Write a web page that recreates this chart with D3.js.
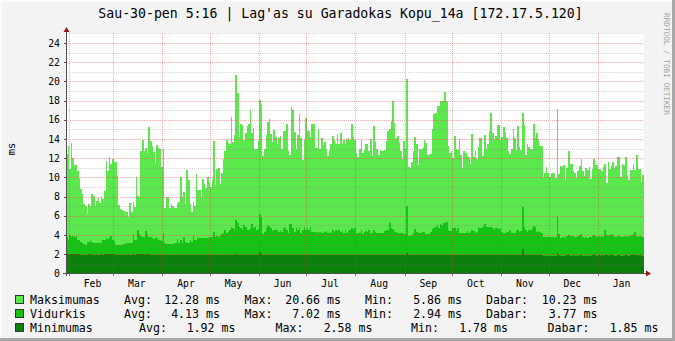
<!DOCTYPE html>
<html>
<head>
<meta charset="utf-8">
<script src="https://cdn.jsdelivr.net/npm/d3@7"></script>
<style>
  html, body { margin: 0; padding: 0; background: #f3f3f3; }
  svg { display: block; }
  text { font-family: "DejaVu Sans Mono", monospace; fill: #000; }
</style>
</head>
<body>
<svg id="chart" width="675" height="341"></svg>
<script>
// Daily round-trip times (ms), one value per day, starting 30 Jan.
const maxValues = [
  12.4, 13.3, 10.9, 13.6, 12.0, 11.25, 11.25, 10.7, 9.9, 8.8, 8.3, 7.2, 7.0, 6.15, 7.2, 7.0, 8.3, 8.05, 7.0, 7.5,
  8.0, 7.3, 8.0, 7.75, 8.6, 11.7, 10.7, 12.1, 11.4, 11.9, 11.6, 11.6, 10.1, 7.1, 6.7, 6.6, 6.5, 6.4, 6.4, 5.86,
  7.3, 6.4, 7.4, 6.9, 10.0, 8.05, 8.0, 12.7, 13.9, 12.7, 13.1, 12.5, 15.2, 13.8, 13.3, 12.6, 11.5, 13.4, 13.1, 12.95,
  11.1, 12.9, 6.85, 8.0, 7.9, 6.8, 7.2, 7.05, 6.8, 6.8, 7.2, 7.4, 10.0, 7.9, 8.5, 7.2, 10.8, 9.7, 7.2, 6.4,
  7.4, 7.0, 10.35, 8.7, 8.7, 8.0, 9.8, 9.3, 8.85, 10.0, 9.55, 9.0, 9.7, 13.8, 9.2, 10.9, 11.0, 9.3, 10.4, 11.9,
  12.7, 13.9, 13.6, 13.5, 16.25, 13.7, 14.4, 20.66, 18.8, 14.2, 15.6, 15.45, 13.9, 14.65, 15.3, 15.6, 17.0, 14.6, 15.1, 12.9,
  12.9, 13.8, 18.05, 17.5, 12.2, 13.0, 14.4, 15.8, 16.05, 14.5, 13.7, 14.9, 14.2, 13.5, 14.05, 14.3, 13.0, 14.85, 14.85, 15.6,
  12.7, 12.3, 17.3, 17.0, 14.75, 13.0, 14.4, 16.6, 14.1, 11.8, 13.9, 16.15, 14.85, 14.85, 14.2, 15.6, 15.6, 13.1, 13.1, 15.0,
  13.0, 14.05, 13.4, 13.7, 12.9, 12.2, 12.85, 13.5, 14.3, 13.9, 13.5, 14.5, 13.5, 14.6, 13.5, 13.9, 13.5, 13.95, 14.05, 13.9,
  15.55, 14.2, 13.9, 12.5, 12.15, 13.0, 13.9, 12.5, 12.8, 13.5, 13.45, 12.7, 14.0, 12.2, 15.35, 13.7, 13.0, 12.3, 12.8, 12.7,
  12.7, 12.8, 13.8, 14.85, 15.0, 15.9, 17.95, 15.7, 14.05, 14.3, 13.6, 12.7, 11.9, 13.8, 12.9, 20.25, 11.05, 10.95, 11.6, 12.7,
  14.2, 13.45, 11.3, 13.0, 12.8, 13.1, 13.9, 13.6, 12.3, 12.4, 12.4, 15.05, 16.6, 16.7, 17.4, 17.4, 17.9, 17.95, 17.95, 18.9,
  18.0, 13.25, 12.5, 12.7, 12.0, 14.3, 12.9, 12.85, 13.95, 12.3, 11.0, 12.75, 12.5, 12.25, 12.15, 11.4, 14.5, 12.15, 12.75, 11.9,
  13.2, 14.1, 14.05, 12.2, 14.4, 13.0, 13.45, 14.8, 16.65, 14.65, 14.0, 14.3, 15.5, 15.5, 13.9, 14.2, 15.2, 14.75, 14.05, 12.7,
  12.4, 13.0, 15.0, 14.05, 12.85, 15.35, 13.2, 12.85, 16.65, 15.45, 12.3, 13.5, 13.2, 13.0, 13.0, 15.55, 14.05, 14.65, 14.0, 13.25,
  13.25, 10.05, 10.5, 11.1, 10.4, 10.05, 10.5, 10.4, 10.4, 9.9, 17.1, 10.35, 11.2, 11.05, 11.25, 9.7, 10.95, 12.75, 11.4, 11.4,
  10.65, 10.4, 9.9, 10.65, 11.2, 11.9, 10.65, 10.15, 11.0, 10.75, 11.05, 9.8, 10.85, 11.9, 11.3, 11.3, 10.85, 10.85, 10.65, 11.05,
  11.4, 9.45, 11.55, 10.85, 11.2, 11.55, 10.95, 11.2, 12.1, 12.1, 10.0, 11.4, 11.3, 12.1, 10.25, 9.7, 10.75, 10.75, 11.4, 10.75,
  12.3, 10.85, 10.85, 9.55, 10.23
];
const avgValues = [
  3.82, 3.47, 3.99, 3.82, 3.92, 3.82, 3.99, 3.47, 3.47, 3.30, 3.13, 3.06, 2.95, 3.30, 3.30, 3.47, 3.30, 3.13, 3.13, 3.19,
  3.30, 3.13, 3.19, 3.47, 3.47, 3.65, 3.58, 3.65, 3.89, 3.47, 3.37, 2.95, 2.95, 2.94, 2.95, 2.95, 3.06, 3.06, 3.19, 3.13,
  3.19, 3.19, 3.99, 3.47, 3.47, 4.51, 4.10, 3.89, 3.82, 3.82, 4.38, 4.06, 3.82, 3.82, 3.65, 3.58, 3.65, 3.65, 3.47, 3.47,
  3.40, 4.17, 3.19, 3.06, 3.06, 3.06, 3.02, 3.06, 3.13, 3.19, 3.54, 3.13, 3.47, 3.19, 3.82, 3.30, 3.13, 3.13, 3.47, 3.30,
  3.89, 3.47, 3.47, 3.65, 3.65, 3.65, 3.72, 3.72, 3.65, 3.72, 3.82, 3.82, 3.82, 4.27, 3.82, 3.89, 3.82, 3.99, 4.10, 4.24,
  4.51, 4.24, 4.34, 4.51, 4.86, 4.69, 4.51, 5.56, 5.21, 4.86, 4.69, 4.51, 5.03, 4.86, 4.51, 4.51, 4.69, 5.14, 4.69, 4.86,
  4.51, 4.60, 6.18, 5.90, 4.10, 4.34, 4.69, 4.93, 4.93, 4.69, 4.44, 4.51, 4.51, 4.51, 4.34, 4.51, 4.34, 4.69, 4.86, 4.51,
  4.17, 5.14, 5.14, 4.69, 4.34, 4.69, 4.51, 4.69, 4.17, 4.51, 4.86, 4.51, 4.69, 4.51, 4.79, 4.34, 4.34, 4.24, 4.34, 4.24,
  4.34, 4.24, 4.17, 4.34, 4.44, 4.17, 4.34, 4.24, 4.51, 4.34, 4.51, 4.44, 4.51, 4.34, 4.44, 4.24, 4.51, 4.17, 4.44, 4.51,
  4.69, 4.51, 4.69, 4.10, 4.24, 4.17, 4.51, 4.10, 4.34, 4.44, 4.34, 4.51, 4.24, 4.17, 4.51, 4.34, 4.17, 4.17, 4.17, 4.17,
  4.24, 4.44, 4.51, 4.51, 5.21, 4.69, 4.58, 4.44, 4.34, 4.17, 4.17, 4.17, 4.17, 4.10, 4.10, 7.02, 3.92, 3.92, 3.99, 4.17,
  4.58, 4.34, 4.17, 4.24, 4.24, 4.34, 4.34, 4.10, 4.10, 4.10, 4.34, 4.58, 4.69, 4.86, 5.03, 4.69, 5.14, 5.03, 5.21, 5.28,
  5.38, 4.51, 4.41, 4.44, 4.69, 4.69, 4.44, 4.69, 4.24, 4.17, 4.17, 4.17, 4.24, 4.44, 4.24, 4.34, 4.51, 4.44, 4.17, 4.34,
  4.86, 4.69, 4.69, 4.86, 5.14, 4.79, 4.86, 4.86, 4.79, 4.69, 4.51, 4.69, 4.69, 4.58, 4.69, 4.34, 4.24, 4.17, 4.34, 4.31,
  4.51, 4.17, 4.24, 4.24, 4.51, 4.51, 4.34, 4.44, 6.94, 4.86, 4.51, 4.34, 4.51, 4.51, 4.69, 4.93, 4.86, 4.34, 4.44, 4.34,
  4.24, 3.82, 3.75, 3.82, 3.75, 3.75, 3.82, 3.75, 3.65, 3.82, 5.90, 4.10, 3.72, 3.75, 3.75, 3.65, 3.89, 3.99, 3.92, 3.89,
  3.92, 3.82, 3.75, 3.89, 3.99, 4.10, 3.82, 3.72, 3.75, 3.72, 3.75, 3.82, 3.89, 3.99, 3.92, 3.82, 3.89, 3.75, 3.89, 3.82,
  4.51, 3.99, 3.92, 3.99, 4.10, 3.99, 3.82, 3.82, 3.89, 3.92, 3.82, 3.75, 3.82, 3.89, 3.75, 3.89, 3.89, 3.99, 4.10, 4.34,
  3.89, 3.82, 3.89, 3.75, 3.77
];
const minValues = [
  2.00, 2.02, 1.98, 2.05, 2.00, 1.98, 2.00, 2.02, 1.98, 1.95, 1.96, 1.95, 1.94, 1.96, 1.98, 1.95, 2.00, 1.96, 1.94, 1.95,
  1.96, 1.95, 1.97, 1.96, 1.98, 2.02, 2.00, 2.05, 2.02, 1.98, 2.00, 1.96, 1.95, 1.94, 1.95, 1.95, 1.94, 1.95, 1.96, 1.95,
  1.95, 1.96, 1.98, 1.96, 1.97, 2.00, 1.98, 2.00, 1.98, 1.96, 2.02, 1.98, 1.98, 1.96, 1.95, 1.96, 1.95, 1.96, 1.95, 1.96,
  1.94, 1.95, 1.92, 1.90, 1.92, 1.91, 1.90, 1.92, 1.90, 1.92, 1.93, 1.90, 1.92, 1.90, 1.94, 1.91, 1.90, 1.90, 1.92, 1.90,
  1.93, 1.90, 1.91, 1.92, 1.90, 1.91, 1.92, 1.90, 1.91, 1.92, 1.92, 1.90, 1.91, 1.94, 1.91, 1.92, 1.90, 1.92, 1.91, 1.93,
  1.92, 1.91, 1.93, 1.92, 1.94, 1.92, 1.91, 1.98, 1.95, 1.92, 1.91, 1.92, 1.93, 1.92, 1.91, 1.92, 1.93, 1.94, 1.92, 1.91,
  1.92, 1.90, 2.20, 2.05, 1.90, 1.90, 1.92, 1.93, 1.92, 1.90, 1.89, 1.90, 1.90, 1.91, 1.89, 1.90, 1.90, 1.92, 1.93, 1.90,
  1.89, 1.92, 1.93, 1.90, 1.89, 1.90, 1.90, 1.91, 1.88, 1.90, 1.91, 1.90, 1.90, 1.89, 1.90, 1.89, 1.89, 1.88, 1.89, 1.88,
  1.89, 1.88, 1.88, 1.89, 1.90, 1.88, 1.89, 1.88, 1.90, 1.89, 1.90, 1.89, 1.90, 1.89, 1.89, 1.88, 1.90, 1.88, 1.89, 1.90,
  1.91, 1.90, 1.90, 1.88, 1.88, 1.88, 1.90, 1.88, 1.89, 1.89, 1.88, 1.90, 1.88, 1.88, 1.90, 1.89, 1.88, 1.88, 1.88, 1.88,
  1.88, 1.89, 1.90, 1.90, 1.93, 1.90, 1.90, 1.89, 1.88, 1.88, 1.88, 1.87, 1.88, 1.87, 1.88, 2.15, 1.86, 1.86, 1.87, 1.88,
  1.90, 1.88, 1.87, 1.88, 1.88, 1.88, 1.88, 1.87, 1.87, 1.87, 1.88, 1.90, 1.90, 1.91, 1.92, 1.90, 1.92, 1.91, 1.93, 1.94,
  1.95, 1.89, 1.88, 1.88, 1.89, 1.90, 1.88, 1.89, 1.87, 1.87, 1.86, 1.87, 1.87, 1.88, 1.87, 1.87, 1.88, 1.88, 1.86, 1.87,
  1.90, 1.89, 1.89, 1.90, 1.92, 1.89, 1.90, 1.92, 1.90, 1.89, 1.88, 1.89, 1.89, 1.88, 1.89, 1.87, 1.87, 1.86, 1.87, 1.87,
  1.88, 1.86, 1.87, 1.87, 1.88, 1.88, 1.87, 1.88, 2.58, 1.90, 1.88, 1.87, 1.88, 1.88, 1.89, 1.90, 1.90, 1.87, 1.88, 1.87,
  1.87, 1.80, 1.78, 1.80, 1.79, 1.80, 1.80, 1.79, 1.82, 1.80, 2.20, 1.86, 1.84, 1.85, 1.85, 1.84, 1.86, 1.86, 1.85, 1.85,
  1.86, 1.85, 1.84, 1.85, 1.86, 1.87, 1.85, 1.84, 1.85, 1.84, 1.85, 1.85, 1.86, 1.87, 1.86, 1.85, 1.86, 1.84, 1.86, 1.85,
  1.90, 1.86, 1.85, 1.86, 1.87, 1.86, 1.85, 1.85, 1.86, 1.86, 1.85, 1.84, 1.85, 1.86, 1.84, 1.85, 1.86, 1.86, 1.87, 1.88,
  1.86, 1.85, 1.86, 1.84, 1.85
];

const monthLabels = ["Feb", "Mar", "Apr", "May", "Jun", "Jul", "Aug", "Sep", "Oct", "Nov", "Dec", "Jan"];
const yTickValues = [0, 2, 4, 6, 8, 10, 12, 14, 16, 18, 20, 22, 24];
const yMinorValues = [1, 3, 5, 7, 9, 11, 13, 15, 17, 19, 21, 23, 25];

const seriesNames = ["Maksimumas", "Vidurkis", "Minimumas"];
const seriesColors = ["#5ae84c", "#14c314", "#0b800b"];
const statAvg = ["12.28 ms", "4.13 ms", "1.92 ms"];
const statMax = ["20.66 ms", "7.02 ms", "2.58 ms"];
const statMin = ["5.86 ms", "2.94 ms", "1.78 ms"];
const statNow = ["10.23 ms", "3.77 ms", "1.85 ms"];

const titleText = "Sau-30-pen 5:16 | Lag'as su Garadokas Kopu_14a [172.17.5.120]";
const unitText = "ms";
const watermark = "RRDTOOL / TOBI OETIKER";

(function draw() {
  const W = 675, H = 341;
  const plotLeft = 66, plotRight = 644, plotTop = 33, plotBottom = 273;
  const start = new Date(2014, 0, 30, 5, 16);
  const end = new Date(2015, 0, 30, 5, 16);

  const svg = d3.select("#chart");

  // frame
  svg.append("rect").attr("width", W).attr("height", H).attr("fill", "#f3f3f3");
  svg.append("path").attr("d", `M0.5,${H} V0.5 H${W}`).attr("stroke", "#fcfcfc").attr("fill", "none");
  svg.append("path").attr("d", `M1.5,${H - 1} V1.5 H${W - 1}`).attr("stroke", "#f8f8f8").attr("fill", "none");
  svg.append("rect").attr("x", W - 3).attr("y", 0).attr("width", 3).attr("height", H).attr("fill", "#a8a8a8");
  svg.append("rect").attr("x", 0).attr("y", H - 3).attr("width", W).attr("height", 3).attr("fill", "#a8a8a8");

  const x = d3.scaleTime().domain([start, end]).range([plotLeft, plotRight]);
  const y = d3.scaleLinear().domain([0, 25]).range([plotBottom + 0.33, plotTop + 0.33]);

  // plot canvas
  svg.append("rect").attr("x", plotLeft).attr("y", plotTop)
    .attr("width", plotRight - plotLeft).attr("height", plotBottom - plotTop).attr("fill", "#ffffff");

  function series(vals) {
    const pts = vals.map((v, i) => ({ t: d3.timeDay.offset(start, i), v }));
    pts.push({ t: end, v: vals[vals.length - 1] });
    return pts;
  }
  const area = d3.area()
    .curve(d3.curveStepAfter)
    .x(d => x(d.t))
    .y0(y(0))
    .y1(d => y(d.v));

  [maxValues, avgValues, minValues].forEach((vals, k) => {
    svg.append("path")
      .datum(series(vals))
      .attr("d", area)
      .attr("fill", seriesColors[k])
      .attr("shape-rendering", "crispEdges");
  });

  // grid, dotted, drawn over the areas
  const grid = svg.append("g").attr("shape-rendering", "crispEdges");
  const px = v => Math.round(v) + 0.5;
  const minorColor = "rgba(120,120,120,0.3)";
  const majorColor = "rgba(215,60,60,0.4)";
  grid.selectAll("line.minor").data(yMinorValues).join("line")
    .attr("x1", plotLeft).attr("x2", plotRight)
    .attr("y1", d => px(y(d))).attr("y2", d => px(y(d)))
    .attr("stroke", minorColor).attr("stroke-dasharray", "1,1");
  grid.selectAll("line.major").data(yTickValues.slice(1)).join("line")
    .attr("x1", plotLeft).attr("x2", plotRight)
    .attr("y1", d => px(y(d))).attr("y2", d => px(y(d)))
    .attr("stroke", majorColor).attr("stroke-dasharray", "1,1");
  const monthStarts = d3.timeMonth.range(d3.timeMonth.ceil(start), end);
  grid.selectAll("line.vert").data(monthStarts).join("line")
    .attr("x1", d => px(x(d))).attr("x2", d => px(x(d)))
    .attr("y1", plotTop).attr("y2", plotBottom)
    .attr("stroke", majorColor).attr("stroke-dasharray", "1,1");

  // axes
  const axisColor = "#505050";
  const arrowColor = "#8b1a1a";
  svg.append("line").attr("x1", plotLeft - 3).attr("x2", plotRight + 2)
    .attr("y1", plotBottom + 0.5).attr("y2", plotBottom + 0.5).attr("stroke", axisColor);
  svg.append("line").attr("x1", plotLeft + 0.5).attr("x2", plotLeft + 0.5)
    .attr("y1", plotBottom + 3).attr("y2", plotTop - 2).attr("stroke", axisColor);
  svg.append("path").attr("d", `M${plotRight + 2},${plotBottom - 2.5} L${plotRight + 7},${plotBottom + 0.5} L${plotRight + 2},${plotBottom + 3.5} Z`).attr("fill", arrowColor);
  svg.append("path").attr("d", `M${plotLeft - 2.5},${plotTop - 1} L${plotLeft + 0.5},${plotTop - 6} L${plotLeft + 3.5},${plotTop - 1} Z`).attr("fill", arrowColor);

  // ticks on axes
  svg.selectAll("line.ytick").data(yTickValues).join("line")
    .attr("x1", plotLeft - 2).attr("x2", plotLeft)
    .attr("y1", d => px(y(d))).attr("y2", d => px(y(d)))
    .attr("stroke", axisColor).attr("shape-rendering", "crispEdges");
  svg.selectAll("line.xtick").data(monthStarts).join("line")
    .attr("x1", d => px(x(d))).attr("x2", d => px(x(d)))
    .attr("y1", plotBottom + 1).attr("y2", plotBottom + 3)
    .attr("stroke", "#c06060").attr("shape-rendering", "crispEdges");

  // y labels
  svg.selectAll("text.ylab").data(yTickValues).join("text")
    .attr("x", 60).attr("y", d => y(d) + 3.6)
    .attr("text-anchor", "end").attr("font-size", "9.8px")
    .text(d => d);

  // month labels, centred half a month after each month start
  svg.selectAll("text.xlab").data(monthStarts).join("text")
    .attr("x", d => x(d3.timeDay.offset(d, 15)))
    .attr("y", 287)
    .attr("text-anchor", "middle").attr("font-size", "9.8px")
    .text((d, i) => monthLabels[i]);

  // title
  svg.append("text").attr("x", 340.5).attr("y", 18).attr("text-anchor", "middle")
    .attr("font-size", "13.2px").text(titleText);

  // unit label
  svg.append("text").attr("transform", "translate(15,149) rotate(-90)")
    .attr("text-anchor", "middle").attr("font-size", "10.5px").text(unitText);

  // watermark
  svg.append("text").attr("transform", "translate(664,13) rotate(90)")
    .attr("font-size", "7.7px").style("fill", "#a0a0a0").text(watermark);

  // legend
  const rowY = [303.5, 317.5, 331.5];
  const valEnd = [[220, 341, 462, 597.5], [220, 341, 462, 597.5], [235.5, 372.5, 508, 658.5]];
  const keyX = [[124, 244.5, 365, 486], [124, 244.5, 365, 486], [139, 275.5, 411, 547.5]];
  const keys = ["Avg:", "Max:", "Min:", "Dabar:"];
  const stats = [statAvg, statMax, statMin, statNow];
  const lg = svg.append("g").attr("font-size", "11.6px");
  seriesNames.forEach((name, r) => {
    lg.append("rect").attr("x", 15.5).attr("y", rowY[r] - 8.5).attr("width", 8).attr("height", 8)
      .attr("fill", seriesColors[r]).attr("stroke", "#333").attr("shape-rendering", "crispEdges");
    lg.append("text").attr("x", 30).attr("y", rowY[r]).text(name);
    keys.forEach((k, c) => {
      lg.append("text").attr("x", keyX[r][c]).attr("y", rowY[r]).text(k);
      lg.append("text").attr("x", valEnd[r][c]).attr("y", rowY[r]).attr("text-anchor", "end").text(stats[c][r]);
    });
  });
})();
</script>
</body>
</html>
